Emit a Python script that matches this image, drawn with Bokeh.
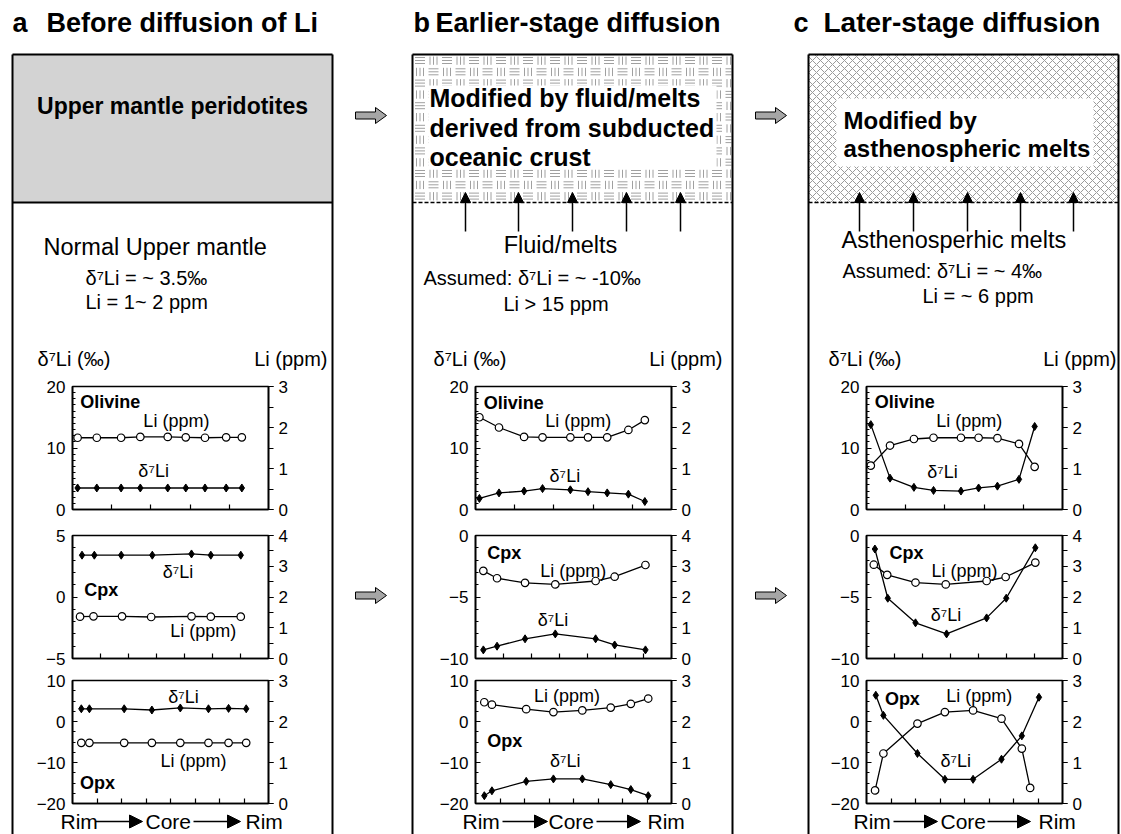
from bokeh.plotting import figure
from bokeh.models import GridBox, Range1d, LinearAxis, FixedTicker, Arrow, NormalHead
from bokeh.core.properties import value
from bokeh.embed import file_html
from bokeh.resources import INLINE

FONT = "Liberation Sans"

# ---------------- data: profiles across grains (rim -> core -> rim) ----------------
# a: before diffusion
a_ol_x = [0.13, 0.62, 1.24, 1.73, 2.43, 2.89, 3.38, 3.92, 4.32]
a_ol_d7li = [3.5, 3.5, 3.5, 3.5, 3.5, 3.5, 3.5, 3.5, 3.5]
a_ol_li = [1.75, 1.75, 1.75, 1.77, 1.77, 1.76, 1.75, 1.76, 1.76]
a_cpx_dx = [0.34, 0.78, 1.74, 2.85, 4.25, 4.94, 6.01]
a_cpx_d7li = [3.4, 3.4, 3.4, 3.4, 3.5, 3.4, 3.4]
a_cpx_lx = [0.27, 0.75, 1.77, 2.81, 4.25, 4.94, 6.01]
a_cpx_li = [1.36, 1.37, 1.37, 1.35, 1.37, 1.36, 1.36]
a_opx_x = [0.36, 0.69, 2.11, 3.24, 4.40, 5.55, 6.37, 7.09]
a_opx_d7li = [3.1, 3.1, 3.1, 2.8, 3.3, 3.1, 3.2, 3.1]
a_opx_li = [1.48, 1.48, 1.48, 1.48, 1.48, 1.48, 1.48, 1.48]

# b: earlier-stage diffusion
b_ol_x = [0.10, 0.60, 1.24, 1.71, 2.42, 2.87, 3.36, 3.90, 4.32]
b_ol_d7li = [1.8, 2.7, 3.0, 3.4, 3.2, 2.9, 2.7, 2.5, 1.3]
b_ol_li = [2.25, 2.00, 1.77, 1.76, 1.76, 1.76, 1.76, 1.94, 2.18]
b_cpx_x = [0.28, 0.77, 1.77, 2.85, 4.29, 4.97, 6.07]
b_cpx_d7li = [-9.3, -9.0, -8.4, -8.0, -8.4, -8.9, -9.3]
b_cpx_li = [2.85, 2.61, 2.46, 2.41, 2.52, 2.66, 3.04]
b_opx_x = [0.36, 0.67, 2.07, 3.18, 4.36, 5.52, 6.34, 7.05]
b_opx_d7li = [-18.1, -16.9, -14.6, -14.0, -14.0, -15.4, -16.6, -18.1]
b_opx_li = [2.47, 2.41, 2.30, 2.23, 2.27, 2.34, 2.43, 2.56]

# c: later-stage diffusion
c_ol_x = [0.11, 0.60, 1.21, 1.71, 2.41, 2.86, 3.34, 3.89, 4.29]
c_ol_d7li = [13.8, 5.1, 3.6, 3.1, 3.0, 3.5, 3.8, 4.9, 13.5]
c_ol_li = [1.07, 1.56, 1.72, 1.75, 1.75, 1.75, 1.74, 1.60, 1.04]
c_cpx_dx = [0.30, 0.76, 1.75, 2.86, 4.29, 4.99, 6.03]
c_cpx_d7li = [-1.1, -5.1, -7.1, -8.0, -6.7, -5.1, -1.0]
c_cpx_lx = [0.26, 0.74, 1.75, 2.83, 4.29, 4.97, 6.03]
c_cpx_li = [3.05, 2.72, 2.47, 2.41, 2.52, 2.65, 3.12]
c_opx_dx = [0.38, 0.69, 2.08, 3.20, 4.35, 5.51, 6.34, 7.04]
c_opx_d7li = [6.4, 1.5, -7.8, -14.1, -14.1, -9.2, -3.5, 5.9]
c_opx_lx = [0.35, 0.69, 2.08, 3.20, 4.35, 5.51, 6.34, 6.68]
c_opx_li = [0.32, 1.22, 1.95, 2.23, 2.27, 2.07, 1.34, 0.38]

D = "\u03b4\u2077Li"

# panel type settings: x extent, left range, left major ticks, left minor step, right range
OL = dict(xmax=5, yl=(0, 20), lt=[0, 10, 20], lm=1.0, yr=(0, 3))
CPXA = dict(xmax=7, yl=(-5, 5), lt=[-5, 0, 5], lm=1.0, yr=(0, 4))
CPX = dict(xmax=7, yl=(-10, 0), lt=[-10, -5, 0], lm=1.0, yr=(0, 4))
OPX = dict(xmax=8, yl=(-20, 10), lt=[-20, -10, 0, 10], lm=2.5, yr=(0, 3))

FW, FH = 196, 123
BL, BR, BT, BB = 46, 34, 10, 10


def frange(a, b, s):
    out, v = [], a
    while v <= b + 1e-9:
        out.append(round(v, 3))
        v += s
    return out


def chart(cfg, dx, d, lx, li, labels):
    xmax = cfg["xmax"]
    p = figure(width=BL + FW + BR, height=BT + FH + BB,
               x_range=Range1d(0, xmax), y_range=Range1d(*cfg["yl"]),
               x_axis_type=None, y_axis_type=None,
               output_backend="svg", toolbar_location=None,
               min_border_left=BL, min_border_right=BR,
               min_border_top=BT, min_border_bottom=BB)
    p.border_fill_alpha = 0
    p.background_fill_color = "white"
    p.outline_line_color = "black"
    p.outline_line_width = 1.6
    p.extra_y_ranges = {"r": Range1d(*cfg["yr"])}

    lo, hi = cfg["yl"]
    la = LinearAxis(ticker=FixedTicker(ticks=cfg["lt"], minor_ticks=frange(lo, hi, cfg["lm"])),
                    major_tick_in=5, major_tick_out=0, minor_tick_in=3, minor_tick_out=0,
                    major_label_standoff=7, axis_line_width=1.6)
    rlo, rhi = cfg["yr"]
    ra = LinearAxis(y_range_name="r",
                    ticker=FixedTicker(ticks=frange(rlo, rhi, 1), minor_ticks=frange(rlo, rhi, 0.5)),
                    major_tick_in=0, major_tick_out=5, minor_tick_in=0, minor_tick_out=5,
                    major_label_standoff=5, axis_line_width=1.6)
    xt = list(range(1, xmax))
    ba = LinearAxis(ticker=FixedTicker(ticks=xt, minor_ticks=[]),
                    major_tick_in=5, major_tick_out=0, major_label_standoff=0,
                    major_label_overrides={t: "" for t in xt},
                    major_label_text_font_size="1px", axis_line_width=1.6)
    for ax in (la, ra):
        ax.major_label_text_font = FONT
        ax.major_label_text_font_size = "17px"
        ax.major_label_text_color = "black"
    for ax in (la, ra, ba):
        ax.axis_line_color = "black"
        ax.major_tick_line_color = "black"
        ax.minor_tick_line_color = "black"
        ax.major_tick_line_width = 1.2
        ax.minor_tick_line_width = 1
    p.add_layout(la, "left")
    p.add_layout(ra, "right")
    p.add_layout(ba, "below")

    p.line(lx, li, y_range_name="r", line_color="black", line_width=1.3)
    p.line(dx, d, line_color="black", line_width=1.3)
    p.scatter(dx, d, marker="diamond", size=8, fill_color="black", line_color="black")
    p.scatter(lx, li, y_range_name="r", marker="circle", size=7.5,
              fill_color="white", line_color="black", line_width=1.2)

    for (tx, ty, s, bold, align) in labels:
        p.text(x=[tx], y=[ty], text=[s], text_font=value(FONT), text_font_size="18px",
               text_font_style="bold" if bold else "normal", text_align=align,
               text_baseline="middle", text_color="black")
    return p


# -------- nine panels --------
ch = {}
ch[("a", 0)] = chart(OL, a_ol_x, a_ol_d7li, a_ol_x, a_ol_li,
                     [(0.2, 17.4, "Olivine", True, "left"), (2.65, 14.4, "Li (ppm)", False, "center"),
                      (2.07, 6.2, D, False, "center")])
ch[("a", 1)] = chart(CPXA, a_cpx_dx, a_cpx_d7li, a_cpx_lx, a_cpx_li,
                     [(0.42, 0.6, "Cpx", True, "left"), (3.77, 2.0, D, False, "center"),
                      (4.67, -2.8, "Li (ppm)", False, "center")])
ch[("a", 2)] = chart(OPX, a_opx_x, a_opx_d7li, a_opx_x, a_opx_li,
                     [(0.31, -14.9, "Opx", True, "left"), (4.53, 5.9, D, False, "center"),
                      (4.94, -9.6, "Li (ppm)", False, "center")])
ch[("b", 0)] = chart(OL, b_ol_x, b_ol_d7li, b_ol_x, b_ol_li,
                     [(0.21, 17.3, "Olivine", True, "left"), (2.62, 14.4, "Li (ppm)", False, "center"),
                      (2.28, 5.4, D, False, "center")])
ch[("b", 1)] = chart(CPX, b_cpx_x, b_cpx_d7li, b_cpx_x, b_cpx_li,
                     [(0.42, -1.4, "Cpx", True, "left"), (3.49, -2.9, "Li (ppm)", False, "center"),
                      (2.77, -6.85, D, False, "center")])
ch[("b", 2)] = chart(OPX, b_opx_x, b_opx_d7li, b_opx_x, b_opx_li,
                     [(0.48, -4.7, "Opx", True, "left"), (3.73, 6.1, "Li (ppm)", False, "center"),
                      (3.66, -9.6, D, False, "center")])
ch[("c", 0)] = chart(OL, c_ol_x, c_ol_d7li, c_ol_x, c_ol_li,
                     [(0.21, 17.4, "Olivine", True, "left"), (2.62, 14.4, "Li (ppm)", False, "center"),
                      (1.94, 6.1, D, False, "center")])
ch[("c", 1)] = chart(CPX, c_cpx_dx, c_cpx_d7li, c_cpx_lx, c_cpx_li,
                     [(0.82, -1.4, "Cpx", True, "left"), (3.5, -2.85, "Li (ppm)", False, "center"),
                      (2.84, -6.5, D, False, "center")])
ch[("c", 2)] = chart(OPX, c_opx_dx, c_opx_d7li, c_opx_lx, c_opx_li,
                     [(0.75, 5.5, "Opx", True, "left"), (4.6, 6.1, "Li (ppm)", False, "center"),
                      (3.64, -9.7, D, False, "center")])

# -------- background sheet with boxes, headings, arrows --------
W, H = 1121, 834
bg = figure(width=W, height=H, x_range=Range1d(0, W), y_range=Range1d(H, 0),
            x_axis_type=None, y_axis_type=None, output_backend="svg",
            toolbar_location=None, min_border=0)
bg.outline_line_color = None
bg.grid.visible = False


def T(x, y, s, size, bold=False, align="left"):
    bg.text(x=[x], y=[y], text=[s], text_font=value(FONT), text_font_size=f"{size}px",
            text_font_style="bold" if bold else "normal", text_align=align,
            text_baseline="middle", text_color="black")


# column a header block
bg.quad(left=[12], right=[332], top=[54], bottom=[202], fill_color="#d3d3d3", line_color=None)

# column b basket-weave pattern
segs_x, segs_y = [], []
cw, chh = 13.5, 11.3
j = 0
yy = 55.0
while yy < 201:
    i = 0
    xx = 413.0
    while xx < 731:
        x1 = min(xx + cw - 2, 731)
        y1 = min(yy + chh - 2, 201)
        if (i + j) % 2 == 0:
            for k in range(3):
                yk = yy + 2 + k * 3
                if yk < 201:
                    segs_x.append([xx + 1.5, x1]); segs_y.append([yk, yk])
        else:
            for k in range(3):
                xk = xx + 3 + k * 3.5
                if xk < 731:
                    segs_x.append([xk, xk]); segs_y.append([yy + 1, y1])
        xx += cw
        i += 1
    yy += chh
    j += 1
bg.multi_line(segs_x, segs_y, line_color="#a0a0a0", line_width=1)

# column c cross-hatch
bg.quad(left=[808], right=[1118], top=[54], bottom=[202], fill_color="white",
        hatch_pattern="diagonal_cross", hatch_color="#9a9a9a", hatch_scale=8,
        hatch_weight=1, line_color=None)

# white text panels
bg.quad(left=[428], right=[716], top=[85], bottom=[169], fill_color="white", line_color=None)
bg.quad(left=[836], right=[1093], top=[98], bottom=[166], fill_color="white", line_color=None)

# frames of columns
for (l, r) in [(12, 332), (412, 732), (808, 1118)]:
    bg.multi_line([[l, r], [l, l], [r, r]], [[54, 54], [54, 840], [54, 840]],
                  line_color="black", line_width=2)
bg.line([12, 332], [202, 202], line_color="black", line_width=2)
bg.multi_line([[412, 732], [808, 1118]], [[202, 202], [202, 202]], line_color="black",
              line_width=1.5, line_dash="4 2")

# grey block arrows between columns
for x0 in (355, 755):
    for yc in (115, 595):
        bg.patch([x0, x0 + 20, x0 + 20, x0 + 31, x0 + 20, x0 + 20, x0],
                 [yc - 3.5, yc - 3.5, yc - 8, yc, yc + 8, yc + 3.5, yc + 3.5],
                 fill_color="#a6a6a6", line_color="black", line_width=1)

# upward arrows (fluid / melt supply)
for xa in [465, 518, 572, 626, 680, 859, 913, 967, 1020, 1073]:
    bg.add_layout(Arrow(end=NormalHead(size=10, fill_color="black", line_color="black"),
                        x_start=xa, y_start=231, x_end=xa, y_end=192,
                        line_color="black", line_width=1.5))

# titles
T(12, 22, "a", 27, True)
T(46, 22, "Before diffusion of Li", 27, True)
T(413, 22, "b", 27, True)
T(435, 22, "Earlier-stage diffusion", 27, True)
T(793, 22, "c", 27, True)
T(823, 22, "Later-stage diffusion", 28, True)

# header block texts
T(172, 105, "Upper mantle peridotites", 23, True, "center")
T(429, 97, "Modified by fluid/melts", 25, True)
T(429, 127, "derived from subducted", 25, True)
T(429, 156, "oceanic crust", 25, True)
T(843, 120, "Modified by", 24, True)
T(843, 148, "asthenospheric melts", 24, True)

# source descriptions
T(43, 246, "Normal Upper mantle", 23.5)
T(85, 277, D + " = ~ 3.5\u2030", 20)
T(85, 301, "Li = 1~ 2 ppm", 20)
T(560, 244, "Fluid/melts", 23.5, False, "center")
T(423, 277, "Assumed: " + D + " = ~ -10\u2030", 20)
T(503, 303, "Li > 15 ppm", 20)
T(841, 239, "Asthenosperhic melts", 23.5)
T(842, 270, "Assumed: " + D + " = ~ 4\u2030", 20)
T(922, 295, "Li = ~ 6 ppm", 20)

# axis headings
for (xl, xr) in [(37, 327), (433, 722), (828, 1116)]:
    T(xl, 358, D + " (\u2030)", 20)
    T(xr, 358, "Li (ppm)", 20, False, "right")

# Rim -> Core -> Rim
YR = 821
for (r1, a1s, a1e, cx, a2s, a2e, r2) in [(60, 95, 142, 145, 193, 240, 245),
                                          (462, 502, 547, 548, 596, 640, 647),
                                          (853, 893, 937, 940, 987, 1030, 1038)]:
    T(r1, YR, "Rim", 21)
    T(cx, YR, "Core", 21)
    T(r2, YR, "Rim", 21)
    for (s, e) in [(a1s, a1e), (a2s, a2e)]:
        bg.add_layout(Arrow(end=NormalHead(size=13, fill_color="black", line_color="black"),
                            x_start=s, y_start=YR, x_end=e, y_end=YR,
                            line_color="black", line_width=1.5))

# -------- grid assembly --------
children = [(bg, 0, 0, 7, 7)]
for ci, col in enumerate(["a", "b", "c"]):
    for ri in range(3):
        children.append((ch[(col, ri)], 1 + 2 * ri, 1 + 2 * ci))

layout = GridBox(children=children,
                 rows=["376px", "143px", "6px", "143px", "2px", "143px", "21px"],
                 cols=["26px", "276px", "127px", "276px", "115px", "276px", "25px"],
                 spacing=0)

open("out.html", "w").write(file_html(layout, INLINE))
